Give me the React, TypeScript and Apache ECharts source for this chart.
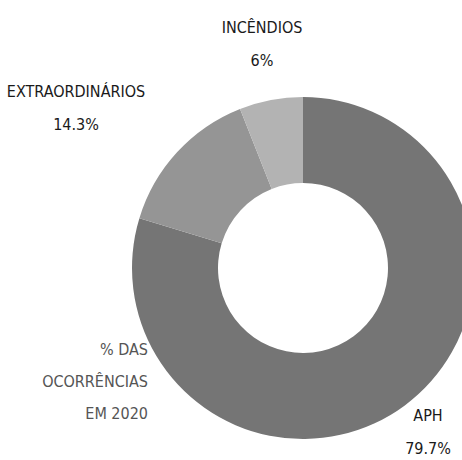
import React, { useEffect, useRef } from "react";
import * as echarts from "echarts";

const categories = ["APH", "Extraordinários", "Incêndios"];
const values = [79.7, 14.3, 6];
const colors = ["#757575", "#959595", "#b3b3b3"];
const titleLines = ["% DAS", "OCORRÊNCIAS", "EM 2020"];
const labelSpots = [
  [428, 432],
  [76, 108],
  [262, 44],
];

const FONT = "'DejaVu Sans Condensed', sans-serif";

export default function App() {
  const ref = useRef<HTMLDivElement>(null);
  useEffect(() => {
    if (!ref.current) return;
    const chart = echarts.init(ref.current, undefined, { renderer: "svg" });
    chart.setOption({
      animation: false,
      backgroundColor: "#ffffff",
      graphic: titleLines.map((t, i) => ({
        type: "text",
        right: 462 - 148,
        top: 341 + i * 32,
        style: {
          text: t,
          fill: "#555555",
          font: `16px ${FONT}`,
          textAlign: "right",
        },
      })),
      series: [
        {
          type: "pie",
          center: [303, 268],
          radius: [85, 171],
          startAngle: 90,
          clockwise: true,
          avoidLabelOverlap: false,
          itemStyle: { borderWidth: 0 },
          emphasis: { disabled: true },
          labelLine: { show: false },
          label: {
            show: true,
            position: "outside",
            formatter: (p: any) => `{a|${String(p.name).toUpperCase()}}\n{b|${p.value}%}`,
            rich: {
              a: { fontFamily: FONT, fontSize: 16, color: "#1a1a1a", lineHeight: 33, align: "center" },
              b: { fontFamily: FONT, fontSize: 16, color: "#1a1a1a", lineHeight: 33, align: "center" },
            },
          },
          labelLayout: (params: any) => {
            const s = labelSpots[params.dataIndex];
            return { x: s[0], y: s[1], align: "center", verticalAlign: "middle" };
          },
          data: categories.map((c, i) => ({
            name: c,
            value: values[i],
            itemStyle: { color: colors[i] },
          })),
        },
      ],
    });
    return () => chart.dispose();
  }, []);
  return (
    <div
      ref={ref}
      style={{ position: "fixed", left: 0, top: 0, width: 462, height: 460 }}
    />
  );
}
